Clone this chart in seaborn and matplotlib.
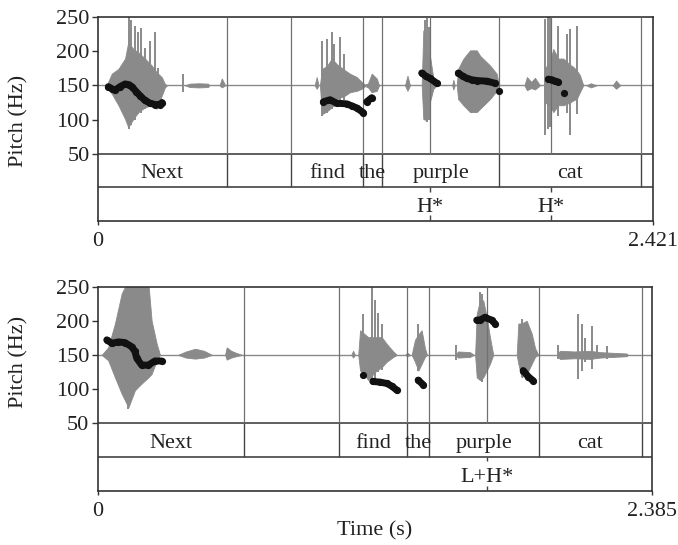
import numpy as np
import pandas as pd
import matplotlib
matplotlib.use("Agg")
import matplotlib.pyplot as plt
import seaborn as sns

# ---------------- data: top panel ----------------
top_dur = 2.421
top_bounds = [0.561, 0.842, 1.154, 1.241, 1.751, 2.369]
top_words = ["Next", "", "find", "the", "purple", "cat", ""]
top_points = [1.448, 1.976]
top_point_labels = ["H*", "H*"]

top_pitch_seg = [0]*14 + [1]*7 + [2]*2 + [3]*4 + [4]*7 + [5] + [6]*4 + [7]
top_pitch_t = [0.045, 0.061, 0.074, 0.096, 0.118, 0.135, 0.148, 0.166, 0.183, 0.205, 0.227, 0.249, 0.271, 0.279,
               0.983, 1.012, 1.041, 1.085, 1.108, 1.129, 1.158,
               1.172, 1.194,
               1.412, 1.431, 1.449, 1.478,
               1.572, 1.592, 1.610, 1.632, 1.653, 1.697, 1.732,
               1.751,
               1.965, 1.981, 1.994, 2.007,
               2.033]
top_pitch_f = [148, 145, 143, 148, 152, 151, 148, 141, 135, 128, 124, 122, 122, 125,
               126, 129, 124, 123, 120, 117, 110,
               126, 132,
               168, 163, 160, 153,
               168, 163, 160, 158, 157, 156, 153,
               142,
               159, 158, 156, 155,
               139]

# waveform envelope (in Hz-axis units, centred on 150)
top_wave = [
    ([0.038, 0.060, 0.089, 0.118, 0.132, 0.154, 0.176, 0.205, 0.234, 0.256, 0.278, 0.292, 0.301],
     [150, 167, 174, 189, 213, 203, 198, 189, 179, 169, 162, 152, 150],
     [150, 138, 121, 101, 89, 101, 111, 118, 121, 116, 135, 147, 150]),
    ([0.380, 0.400, 0.440, 0.480, 0.485], [150, 152.5, 153, 152.5, 150], [150, 147.5, 147, 147.5, 150]),
    ([0.530, 0.540, 0.555], [150, 160, 150], [150, 147, 150]),
    ([0.945, 0.954, 0.962], [150, 162, 150], [150, 145, 150]),
    ([0.968, 0.977, 0.998, 1.020, 1.041, 1.077, 1.099, 1.129, 1.150, 1.165, 1.178, 1.194, 1.216, 1.226],
     [150, 174, 178, 189, 181, 172, 167, 162, 155, 151, 153, 167, 160, 150],
     [150, 108, 112, 118, 130, 135, 140, 142, 145, 149, 147, 140, 142, 150]),
    ([1.339, 1.350, 1.361], [150, 164, 150], [150, 142, 150]),
    ([1.412, 1.419, 1.435, 1.448, 1.463, 1.478], [150, 230, 200, 193, 160, 150], [150, 101, 99, 126, 145, 150]),
    ([1.545, 1.550, 1.556], [150, 158, 150], [150, 144, 150]),
    ([1.565, 1.571, 1.594, 1.623, 1.652, 1.667, 1.710, 1.739, 1.749],
     [150, 174, 189, 201, 201, 193, 179, 167, 150],
     [150, 130, 121, 111, 111, 116, 130, 142, 150]),
    ([1.860, 1.871, 1.890, 1.906, 1.928], [150, 162, 155, 161, 150], [150, 143, 146, 144, 150]),
    ([1.946, 1.950, 1.972, 1.986, 2.008, 2.030, 2.059, 2.073, 2.088, 2.102, 2.117],
     [150, 175, 185, 203, 189, 189, 180, 177, 172, 165, 150],
     [150, 125, 120, 111, 121, 121, 125, 128, 130, 140, 150]),
    ([2.130, 2.150, 2.175], [150, 153, 150], [150, 147, 150]),
    ([2.245, 2.260, 2.278], [150, 157, 150], [150, 145, 150]),
]
top_spike_t = [0.135, 0.144, 0.161, 0.176, 0.188, 0.205, 0.227, 0.249, 0.262, 0.372,
               0.977, 0.998, 1.020, 1.030, 1.056, 1.073, 1.426, 1.435, 1.442,
               1.950, 1.963, 1.972, 2.008, 2.045, 2.059, 2.088]
top_spike_hi = [250, 245, 237, 228, 233, 205, 215, 227, 175, 167,
                215, 218, 227, 210, 220, 195, 245, 248, 235,
                247, 250, 250, 237, 225, 232, 237]
top_spike_lo = [87, 92, 100, 108, 110, 115, 118, 118, 125, 140,
                106, 110, 115, 118, 125, 128, 99, 96, 100,
                77, 87, 90, 106, 110, 77, 108]

# ---------------- data: bottom panel ----------------
bot_dur = 2.385
bot_bounds = [0.630, 1.041, 1.334, 1.428, 1.900, 2.342]
bot_words = ["Next", "", "find", "the", "purple", "cat", ""]
bot_points = [1.675]
bot_point_labels = ["L+H*"]

bot_pitch_seg = [0]*11 + [1] + [2]*5 + [3]*2 + [4]*5 + [5]*3
bot_pitch_t = [0.040, 0.061, 0.090, 0.118, 0.147, 0.161, 0.169, 0.190, 0.219, 0.247, 0.276,
               1.144,
               1.185, 1.216, 1.246, 1.267, 1.289,
               1.380, 1.402,
               1.632, 1.646, 1.667, 1.696, 1.710,
               1.832, 1.854, 1.875]
bot_pitch_f = [172, 167, 169, 168, 162, 155, 145, 135, 135, 141, 141,
               120,
               111, 110, 108, 104, 98,
               113, 106,
               201, 201, 205, 201, 196,
               127, 118, 112]

bot_wave = [
    ([0.018, 0.046, 0.075, 0.104, 0.133, 0.161, 0.190, 0.219, 0.233, 0.255, 0.269],
     [150, 161, 196, 240, 260, 260, 260, 255, 200, 166, 150],
     [150, 142, 117, 93, 73, 98, 108, 117, 122, 142, 150]),
    ([0.346, 0.381, 0.420, 0.458, 0.493], [150, 155, 159, 156, 150], [150, 146, 144.5, 146, 150]),
    ([0.549, 0.556, 0.575, 0.596, 0.622], [150, 161, 156, 153, 150], [150, 143, 146, 148, 150]),
    ([1.092, 1.100, 1.108], [150, 156, 150], [150, 146, 150]),
    ([1.122, 1.130, 1.151, 1.165, 1.194, 1.223, 1.245, 1.273, 1.288],
     [150, 186, 180, 176, 176, 176, 166, 155, 150],
     [150, 127, 120, 113, 125, 132, 140, 147, 150]),
    ([1.323, 1.334, 1.345], [150, 153, 150], [150, 148, 150]),
    ([1.352, 1.366, 1.381, 1.395, 1.409, 1.418], [150, 172, 180, 186, 160, 150], [150, 140, 127, 137, 147, 150]),
    ([1.539, 1.552, 1.603, 1.620], [150, 155, 154, 150], [150, 146, 147, 150]),
    ([1.625, 1.632, 1.646, 1.660, 1.675, 1.689, 1.703], [150, 210, 230, 230, 205, 176, 150],
     [150, 117, 113, 117, 127, 137, 150]),
    ([1.804, 1.811, 1.825, 1.847, 1.869, 1.883, 1.897], [150, 196, 196, 200, 181, 160, 150],
     [150, 137, 117, 122, 137, 147, 150]),
    ([1.976, 1.990, 2.054, 2.119, 2.162, 2.277, 2.283], [150, 156, 155, 156, 154, 152, 150],
     [150, 144, 145, 144, 146, 148, 150]),
]
bot_spike_t = [0.133, 1.144, 1.180, 1.194, 1.208, 1.223, 1.381, 1.543, 1.646, 1.655,
               1.825, 1.983, 2.069, 2.084, 2.098, 2.127, 2.148, 2.191]
bot_spike_hi = [260, 210, 250, 230, 211, 196, 196, 164, 242, 240,
                203, 164, 210, 196, 175, 193, 165, 163]
bot_spike_lo = [70, 120, 112, 115, 125, 128, 127, 142, 113, 110,
                117, 144, 115, 127, 140, 130, 145, 144]

# ---------------- style ----------------
sns.set_style("white")
plt.rcParams["font.family"] = ["Liberation Serif", "DejaVu Serif"]
FS = 16
WAVE = "#8a8a8a"
FRAME = "#333333"

fig = plt.figure(figsize=(6.78, 5.45), dpi=100)


def draw_panel(rect, dur, ybot, ytier, bounds, words, points, plabels,
               wave, sp_t, sp_hi, sp_lo, p_seg, p_t, p_f, base1, base2, endlabel):
    ax = fig.add_axes(rect)
    ax.set_xlim(0, dur)
    ax.set_ylim(ybot, 250)
    # waveform
    ax.axhline(150, color=WAVE, lw=1.0, zorder=1.5)
    for t, hi, lo in wave:
        ax.fill_between(t, lo, hi, color=WAVE, lw=0.6, edgecolor=WAVE, zorder=2)
    ax.vlines(sp_t, sp_lo, sp_hi, color=WAVE, lw=1.4, zorder=2)
    # tiers
    ax.axhline(50, color=FRAME, lw=1.1, zorder=3)
    ax.axhline(ytier, color=FRAME, lw=1.1, zorder=3)
    ax.vlines(bounds, 50, 250, color="#707070", lw=0.9, zorder=3)
    ax.vlines(bounds, ytier, 50, color="#444444", lw=1.0, zorder=3)
    ax.vlines(points, 50, 250, color="#707070", lw=0.9, zorder=3)
    ax.vlines(points, ybot, ybot + 8, color="#444444", lw=1.0, zorder=3)
    ax.vlines(points, ytier - 6, ytier, color="#444444", lw=1.0, zorder=3)
    edges = [0] + list(bounds) + [dur]
    for i, w in enumerate(words):
        if w:
            ax.text((edges[i] + edges[i + 1]) / 2, base1, w, ha="center", va="baseline",
                    fontsize=FS, color="#222222", zorder=4)
    for p, lab in zip(points, plabels):
        ax.text(p, base2, lab, ha="center", va="baseline", fontsize=FS, color="#222222", zorder=4)
    # pitch
    df = pd.DataFrame({"t": p_t, "f": p_f, "seg": p_seg})
    sns.lineplot(data=df, x="t", y="f", units="seg", estimator=None, sort=False, ax=ax,
                 color="#111111", lw=5.0, marker="o", markersize=5.2, markeredgewidth=0,
                 solid_capstyle="round", legend=False, zorder=6)
    ax.set_xlabel("")
    ax.set_ylabel("")
    ax.set_yticks([50, 100, 150, 200, 250])
    ax.set_yticklabels(["50", "100", "150", "200", "250"], fontsize=FS)
    ax.set_xticks([0, dur])
    ax.set_xticklabels(["0", endlabel], fontsize=FS)
    ax.tick_params(axis="y", direction="out", length=4.5, width=1.0, pad=1.5, colors=FRAME,
                   labelcolor="#222222", left=True)
    ax.tick_params(axis="x", direction="out", length=3, width=1.0, pad=5, colors=FRAME,
                   labelcolor="#222222", bottom=True)
    for s in ax.spines.values():
        s.set_color(FRAME)
        s.set_linewidth(1.2)
        s.set_visible(True)
    return ax


draw_panel([98 / 678, 1 - 220.5 / 545, 555 / 678, 203.8 / 545], top_dur, -46.9, 1.2,
           top_bounds, top_words, top_points, top_point_labels,
           top_wave, top_spike_t, top_spike_hi, top_spike_lo,
           top_pitch_seg, top_pitch_t, top_pitch_f, 15, -35, "2.421")
draw_panel([97.5 / 678, 1 - 491 / 545, 554.2 / 678, 204.3 / 545], bot_dur, -49.7, 0.6,
           bot_bounds, bot_words, bot_points, bot_point_labels,
           bot_wave, bot_spike_t, bot_spike_hi, bot_spike_lo,
           bot_pitch_seg, bot_pitch_t, bot_pitch_f, 13, -36, "2.385")

fig.text(19 / 678, 1 - 121 / 545, "Pitch (Hz)", rotation=90, ha="center", va="center",
         fontsize=FS, color="#222222")
fig.text(19 / 678, 1 - 362 / 545, "Pitch (Hz)", rotation=90, ha="center", va="center",
         fontsize=FS, color="#222222")
fig.text(375 / 678, 1 - 531 / 545, "Time (s)", ha="center", va="center", fontsize=FS,
         color="#222222")

fig.savefig("out.png", dpi=100)
